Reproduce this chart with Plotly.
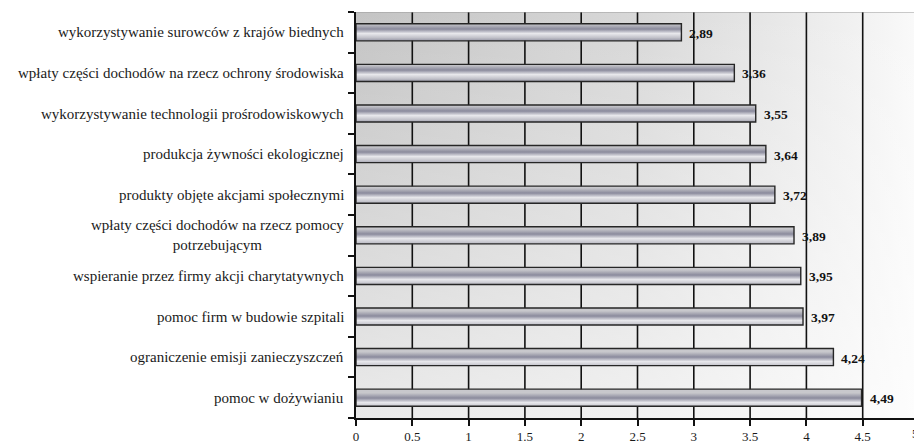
import plotly.graph_objects as go

categories = [
    "wykorzystywanie surowców z krajów biednych",
    "wpłaty części dochodów na rzecz ochrony środowiska",
    "wykorzystywanie technologii prośrodowiskowych",
    "produkcja żywności ekologicznej",
    "produkty objęte akcjami społecznymi",
    "wpłaty części dochodów na rzecz pomocy<br>potrzebującym",
    "wspieranie przez firmy akcji charytatywnych",
    "pomoc firm w budowie szpitali",
    "ograniczenie emisji zanieczyszczeń",
    "pomoc w dożywianiu",
]
values = [2.89, 3.36, 3.55, 3.64, 3.72, 3.89, 3.95, 3.97, 4.24, 4.49]
x_ticks = [0, 0.5, 1, 1.5, 2, 2.5, 3, 3.5, 4, 4.5, 5]
x_tick_labels = ["0", "0.5", "1", "1.5", "2", "2.5", "3", "3.5", "4", "4.5", "5"]

FONT = "Liberation Serif"
n = len(categories)
xmin, xmax = x_ticks[0], x_ticks[-1]
ylo, yhi = -0.5, n - 0.5
half = 0.21

fig = go.Figure()

# plot-area background gradient
fig.add_trace(go.Scatter(
    x=[xmin, xmax, xmax, xmin, xmin], y=[ylo, ylo, yhi, yhi, ylo],
    fill="toself", mode="none", hoverinfo="skip", showlegend=False,
    fillgradient=dict(type="horizontal", colorscale=[
        [0, "#c4c4c4"], [0.5, "#d8d8d8"], [0.75, "#e8e8e8"],
        [0.9, "#f2f2f2"], [1, "#fafafa"]]),
))
fig.add_trace(go.Scatter(
    x=[xmin, xmax, xmax, xmin, xmin], y=[ylo, ylo, yhi, yhi, ylo],
    fill="toself", mode="none", hoverinfo="skip", showlegend=False,
    fillgradient=dict(type="vertical", start=ylo, stop=yhi, colorscale=[
        [0, "rgba(255,255,255,0)"], [1, "rgba(255,255,255,0.65)"]]),
))

# vertical gridlines
for t in x_ticks[1:-1]:
    fig.add_trace(go.Scatter(
        x=[t, t], y=[ylo, yhi], mode="lines", hoverinfo="skip", showlegend=False,
        line=dict(color="#111111", width=1.6),
    ))

# cylindrical bars
bar_scale = [
    [0, "#c8c8cc"], [0.3, "#8a8a9c"], [0.56, "#e8e8ec"],
    [0.8, "#c2c2ca"], [1, "#9090a0"]]
for i, v in enumerate(values):
    fig.add_trace(go.Scatter(
        x=[0, v, v, 0, 0], y=[i - half, i - half, i + half, i + half, i - half],
        fill="toself", mode="lines", hoverinfo="skip", showlegend=False,
        line=dict(color="#262626", width=1.4),
        fillgradient=dict(type="vertical", start=i - half, stop=i + half,
                          colorscale=bar_scale),
    ))

annotations = []
for i, (c, v) in enumerate(zip(categories, values)):
    annotations.append(dict(
        x=0, y=i, xref="x", yref="y", text=c, showarrow=False,
        xanchor="right", yanchor="middle", align="center", xshift=-10,
        font=dict(family=FONT, size=15, color="#1a1a1a"),
    ))
    annotations.append(dict(
        x=v, y=i, xref="x", yref="y", text="<b>" + f"{v:.2f}".replace(".", ",") + "</b>",
        showarrow=False, xanchor="left", yanchor="middle", xshift=6, yshift=-1,
        font=dict(family=FONT, size=13.5, color="#111111"),
    ))
# last tick label sits on the figure edge (plotly hides it), so draw it as text
annotations.append(dict(
    x=x_ticks[-1], y=0, xref="x", yref="paper", text=x_tick_labels[-1],
    showarrow=False, xanchor="right", yanchor="top", yshift=-6, xshift=2,
    font=dict(family=FONT, size=13, color="#1a1a1a"),
))

shapes = [
    dict(type="line", xref="x", yref="y", x0=xmin, x1=xmax, y0=ylo, y1=ylo,
         line=dict(color="#9a9a9a", width=1), layer="above"),
    dict(type="line", xref="x", yref="y", x0=xmax, x1=xmax, y0=ylo, y1=yhi,
         line=dict(color="#9a9a9a", width=1), layer="above"),
]

fig.update_layout(
    width=914, height=439,
    margin=dict(l=348, r=3, t=4, b=25),
    paper_bgcolor="white", plot_bgcolor="white",
    showlegend=False,
    annotations=annotations, shapes=shapes,
    xaxis=dict(range=[xmin, xmax], tickvals=x_ticks, ticktext=x_tick_labels,
               showgrid=False, zeroline=False, showline=True, linecolor="#111111",
               linewidth=1.5, ticks="outside", ticklen=6, tickcolor="#111111",
               tickwidth=1.5, tickfont=dict(family=FONT, size=13, color="#1a1a1a")),
    yaxis=dict(range=[yhi, ylo], tickvals=[k - 0.5 for k in range(n + 1)],
               ticktext=[""] * (n + 1), showgrid=False, zeroline=False,
               showline=True, linecolor="#111111", linewidth=1.5,
               ticks="outside", ticklen=6, tickcolor="#111111", tickwidth=1.5),
)

fig.write_html("out.html")
